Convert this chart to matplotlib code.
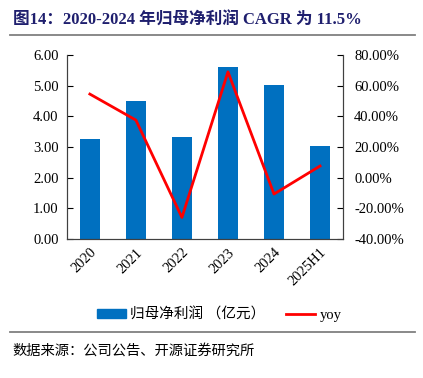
import numpy as np
import matplotlib
matplotlib.use("Agg")
import matplotlib.pyplot as plt
from matplotlib.ticker import FuncFormatter
from matplotlib.lines import Line2D
from matplotlib.patches import Patch

plt.rcParams["font.family"] = ["Liberation Serif", "Noto Sans CJK SC"]

years = ["2020", "2021", "2022", "2023", "2024", "2025H1"]
profit = [3.27, 4.50, 3.33, 5.63, 5.03, 3.02]
yoy = [54.6, 37.6, -26.0, 69.1, -10.7, 7.6]

BLUE = "#0070C0"
RED = "#FF0000"
NAVY = "#1F1F6E"

fig = plt.figure(figsize=(4.23, 3.78), dpi=100)
ax = fig.add_axes([0.158, 0.368, 0.653, 0.486])
x = np.arange(len(years))
ax.bar(x, profit, width=0.43, color=BLUE, zorder=2)
ax.set_ylim(0, 6)
ax.set_yticks(np.arange(0, 6.01, 1))
ax.yaxis.set_major_formatter(FuncFormatter(lambda v, p: f"{v:.2f}"))
ax.set_xlim(-0.5, len(years) - 0.5)
ax.set_xticks(x)
ax.set_xticklabels(years, rotation=45, ha="right", rotation_mode="anchor")
ax.tick_params(axis="x", length=0, labelsize=10.5, pad=5)
ax.tick_params(axis="y", direction="in", length=4, labelsize=10.5, pad=6)
ax.spines["top"].set_visible(False)
for s in ax.spines.values():
    s.set_linewidth(0.8)
    s.set_color("#404040")

ax2 = ax.twinx()
ax2.plot(x, yoy, color=RED, lw=2, zorder=3)
ax2.set_ylim(-40, 80)
ax2.set_yticks(np.arange(-40, 80.1, 20))
ax2.yaxis.set_major_formatter(FuncFormatter(lambda v, p: f"{v:.2f}%"))
ax2.tick_params(axis="y", direction="in", length=4, labelsize=10.5, pad=8)
ax2.spines["top"].set_visible(False)
for s in ax2.spines.values():
    s.set_linewidth(0.8)
    s.set_color("#404040")

handles = [Patch(color=BLUE), Line2D([0], [0], color=RED, lw=2)]
fig.legend(handles, ["归母净利润 （亿元）", "yoy"], loc="center",
           bbox_to_anchor=(0.518, 0.167), ncol=2, frameon=False, fontsize=10.5,
           handlelength=2.0, handleheight=0.6, columnspacing=1.4, handletextpad=0.3)

fig.text(0.03, 0.945, "图14：2020-2024 年归母净利润 CAGR 为 11.5%", fontsize=12,
         fontweight="bold", color=NAVY, va="center")
fig.add_artist(Line2D([0.024, 0.98], [0.908, 0.908], color="#808080", lw=1.3))
fig.add_artist(Line2D([0.024, 0.98], [0.121, 0.121], color="#808080", lw=1.3))
fig.text(0.03, 0.072, "数据来源：公司公告、开源证券研究所", fontsize=10.3, va="center")

fig.savefig("out.png", dpi=100)
